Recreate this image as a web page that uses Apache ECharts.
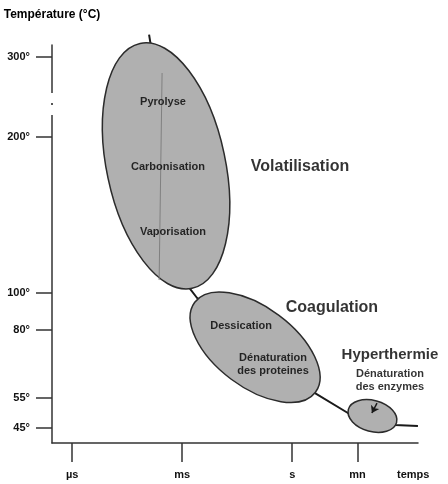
<!DOCTYPE html>
<html>
<head>
<meta charset="utf-8">
<script src="https://cdn.jsdelivr.net/npm/echarts@6/dist/echarts.min.js"></script>
<style>
  html, body { margin: 0; padding: 0; background: #fff; }
  #chart { width: 448px; height: 484px; }
</style>
</head>
<body>
<div id="chart"></div>
<script>
// graduations du temps (s) et leurs libellés
var timeTicks = [1e-6, 1e-3, 1, 60];
var timeLabels = ['µs', 'ms', 's', 'mn'];

// graduations de température (°C)
var tempTicks = [45, 55, 80, 100, 200, 300];
// le schéma n'a pas une échelle linéaire : hauteur de chaque graduation
var tempLevels = [15, 45, 113, 150, 306, 386];

// courbe température / temps
var curveTime = [1.25e-4, 1.64e-3, 2.55e-3, 4.18, 33, 630, 2680];
var curveTemp = [328, 102.6, 97.3, 56.8, 50, 46, 45.7];

// zones (ellipses) : extrémités du grand axe
var zoneNames = ['Volatilisation', 'Coagulation', 'Hyperthermie'];
var zoneStartTime = [7.1e-5, 2.2e-3, 34];
var zoneStartTemp = [317, 95, 51.2];
var zoneEndTime = [1.86e-3, 4.3, 700];
var zoneEndTemp = [103, 57.1, 46.8];
var zoneTitleTime = [1.63, 12.1, 462];
var zoneTitleTemp = [180.8, 91.9, 70.8];

// phénomènes dans les zones
var noteText = ['Pyrolyse', 'Carbonisation', 'Vaporisation', 'Dessication',
  'Dénaturation\ndes proteines', 'Dénaturation\ndes enzymes'];
var noteTime = [3.0e-4, 4.1e-4, 5.6e-4, 0.0403, 0.30, 462];
var noteTemp = [244, 181, 139, 82.2, 67.3, 61.4];

// trait fin dans la grande zone
var innerTime = [2.83e-4, 2.35e-4];
var innerTemp = [280, 108.3];

// flèche vers la petite zone
var arrowTime = [205, 149];
var arrowTemp = [53.3, 50];

// coupure de l'axe vertical
var breakTemp = [227.5, 255];

var zoneRatio = [0.474, 0.53, 0.62];
var titleSize = [16, 16, 15];
var FONT = '"Liberation Sans", Arial, sans-serif';

function level(T) {
  var n = tempTicks.length, i = 0;
  if (T > tempTicks[n - 1]) i = n - 2;
  else while (i < n - 2 && T > tempTicks[i + 1]) i++;
  var t0 = tempTicks[i], t1 = tempTicks[i + 1];
  var l0 = tempLevels[i], l1 = tempLevels[i + 1];
  return l0 + (T - t0) * (l1 - l0) / (t1 - t0);
}

function pts(ts, Ts) {
  return ts.map(function (t, i) { return [t, level(Ts[i])]; });
}

var xMin = Math.pow(10, -6.55), xMax = Math.pow(10, 3.43);

var chart = echarts.init(document.getElementById('chart'));
var option = {
  animation: false,
  grid: { left: 52, right: 30, top: 45, bottom: 41 },
  xAxis: {
    type: 'log',
    logBase: 10,
    min: xMin,
    max: xMax,
    name: 'temps',
    nameLocation: 'end',
    nameGap: -21,
    nameTextStyle: {
      fontFamily: FONT, fontWeight: 'bold', fontSize: 11, color: '#111',
      verticalAlign: 'top', padding: [26, 0, 0, 0]
    },
    axisLine: { show: true, lineStyle: { color: '#333', width: 1.5 } },
    axisTick: { show: true, length: 19, customValues: timeTicks, lineStyle: { color: '#333', width: 1.5 } },
    axisLabel: {
      customValues: timeTicks,
      margin: 26,
      fontFamily: FONT, fontWeight: 'bold', fontSize: 11, color: '#111',
      formatter: function (v) {
        for (var i = 0; i < timeTicks.length; i++) {
          if (Math.abs(Math.log10(v) - Math.log10(timeTicks[i])) < 1e-6) return timeLabels[i];
        }
        return '';
      }
    },
    splitLine: { show: false },
    minorTick: { show: false }
  },
  yAxis: {
    type: 'value',
    min: 0,
    max: 398,
    name: 'Température (°C)',
    nameLocation: 'end',
    nameGap: 24,
    nameTextStyle: { fontFamily: FONT, fontWeight: 'bold', fontSize: 12, color: '#000' },
    axisLine: { show: true, lineStyle: { color: '#333', width: 1.5 } },
    axisTick: { show: true, length: 16, customValues: tempTicks.map(level), lineStyle: { color: '#333', width: 1.5 } },
    axisLabel: {
      customValues: tempTicks.map(level),
      margin: 22,
      fontFamily: FONT, fontWeight: 'bold', fontSize: 11, color: '#111',
      formatter: function (v) {
        for (var i = 0; i < tempTicks.length; i++) {
          if (Math.abs(v - level(tempTicks[i])) < 1e-6) return tempTicks[i] + '°';
        }
        return '';
      }
    },
    splitLine: { show: false }
  },
  series: [
    {
      type: 'line',
      z: 1,
      clip: false,
      silent: true,
      showSymbol: false,
      data: pts(curveTime, curveTemp),
      lineStyle: { color: '#1a1a1a', width: 2 },
      markLine: {
        silent: true,
        symbol: ['none', 'arrow'],
        symbolSize: 7,
        label: { show: false },
        lineStyle: { color: '#1a1a1a', width: 1.5, type: 'solid' },
        data: [[{ coord: [arrowTime[0], level(arrowTemp[0])] }, { coord: [arrowTime[1], level(arrowTemp[1])] }]],
        z: 6
      }
    },
    {
      type: 'custom',
      z: 2,
      silent: true,
      clip: false,
      data: zoneNames.map(function (n, i) {
        return [zoneStartTime[i], level(zoneStartTemp[i]), zoneEndTime[i], level(zoneEndTemp[i])];
      }),
      renderItem: function (params, api) {
        var p0 = api.coord([api.value(0), api.value(1)]);
        var p1 = api.coord([api.value(2), api.value(3)]);
        var dx = p1[0] - p0[0], dy = p1[1] - p0[1];
        var a = Math.sqrt(dx * dx + dy * dy) / 2;
        return {
          type: 'ellipse',
          x: (p0[0] + p1[0]) / 2,
          y: (p0[1] + p1[1]) / 2,
          rotation: -Math.atan2(dy, dx),
          shape: { cx: 0, cy: 0, rx: a, ry: a * zoneRatio[params.dataIndex] },
          style: { fill: '#b0b0b0', stroke: '#2b2b2b', lineWidth: 1.5 }
        };
      }
    },
    {
      type: 'line',
      z: 3,
      silent: true,
      showSymbol: false,
      data: pts(innerTime, innerTemp),
      lineStyle: { color: '#808080', width: 1 }
    },
    {
      type: 'scatter',
      z: 5,
      silent: true,
      clip: false,
      symbolSize: 0,
      data: zoneNames.map(function (n, i) {
        return {
          name: n,
          value: [zoneTitleTime[i], level(zoneTitleTemp[i])],
          label: { fontSize: titleSize[i] }
        };
      }),
      label: {
        show: true, position: 'inside', formatter: '{b}',
        fontFamily: FONT, fontWeight: 'bold', fontSize: 16, color: '#000'
      }
    },
    {
      type: 'scatter',
      z: 5,
      silent: true,
      clip: false,
      symbolSize: 0,
      data: noteText.map(function (n, i) {
        return { name: n, value: [noteTime[i], level(noteTemp[i])] };
      }),
      label: {
        show: true, position: 'inside', formatter: '{b}',
        fontFamily: FONT, fontWeight: 'bold', fontSize: 11, lineHeight: 13, color: '#000'
      }
    }
  ]
};
chart.setOption(option);

// coupure de l'axe vertical : on masque un bout du trait et on met un point
var pLow = chart.convertToPixel({ gridIndex: 0 }, [xMin, level(breakTemp[0])]);
var pHigh = chart.convertToPixel({ gridIndex: 0 }, [xMin, level(breakTemp[1])]);
chart.setOption({
  graphic: [
    {
      type: 'rect', z: 100,
      shape: { x: pHigh[0] - 3, y: pHigh[1], width: 6, height: pLow[1] - pHigh[1] },
      style: { fill: '#fff' }
    },
    {
      type: 'rect', z: 101,
      shape: { x: pHigh[0] - 1, y: (pLow[1] + pHigh[1]) / 2 - 1, width: 2, height: 2 },
      style: { fill: '#555' }
    }
  ]
});
</script>
</body>
</html>
